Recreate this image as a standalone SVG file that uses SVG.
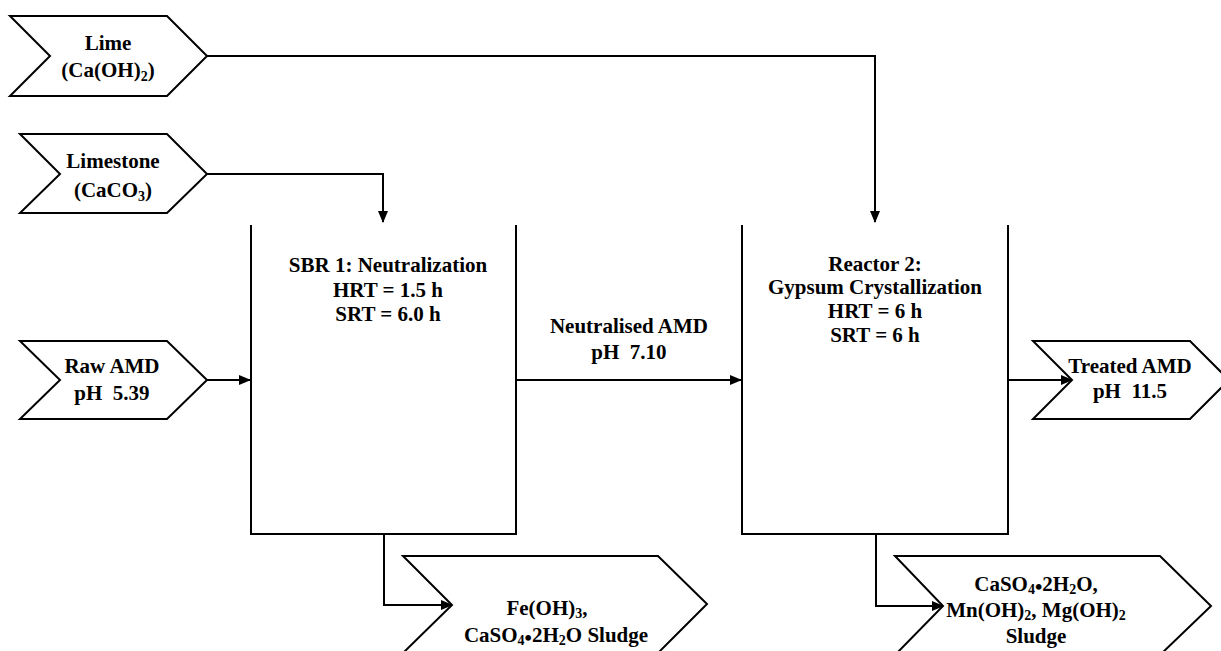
<svg xmlns="http://www.w3.org/2000/svg" width="1221" height="651" viewBox="0 0 1221 651">
<style>
.shape{fill:#fff;stroke:#000;stroke-width:2;stroke-linejoin:miter}
.tank{fill:none;stroke:#000;stroke-width:2}
.conn{fill:none;stroke:#000;stroke-width:2}
text{font-family:"Liberation Serif","Times New Roman",serif;font-weight:bold;font-size:21px;fill:#000;text-anchor:middle;white-space:pre}
.sub{font-size:14px}
</style>
<defs>
<marker id="arr" markerWidth="12" markerHeight="10" refX="11" refY="5" orient="auto" markerUnits="userSpaceOnUse">
<path d="M0,0 L12,5 L0,10 Z" fill="#000"/>
</marker>
</defs>
<rect width="1221" height="651" fill="#fff"/>
<g id="connectors">
<path class="conn" d="M207,56 H875 V222" marker-end="url(#arr)"/>
<path class="conn" d="M207,174 H383 V222" marker-end="url(#arr)"/>
<path class="conn" d="M207,380 H250" marker-end="url(#arr)"/>
<path class="conn" d="M516,380 H741" marker-end="url(#arr)"/>
<path class="conn" d="M1008,380 H1072" marker-end="url(#arr)"/>
<path class="conn" d="M384,534 V605 H452" marker-end="url(#arr)"/>
<path class="conn" d="M876,534 V606 H943" marker-end="url(#arr)"/>
</g>
<g id="lime">
<polygon class="shape" points="10,16 167,16 207,56 167,96 10,96 50,56"/>
<text x="108" y="50">Lime</text>
<text x="108" y="77">(Ca(OH)<tspan class="sub" dy="4">2</tspan><tspan dy="-4">)</tspan></text>
</g>
<g id="limestone">
<polygon class="shape" points="20,134 167,134 207,174 167,213 20,213 60,174"/>
<text x="113" y="168">Limestone</text>
<text x="113" y="197">(CaCO<tspan class="sub" dy="4">3</tspan><tspan dy="-4">)</tspan></text>
</g>
<g id="raw-amd">
<polygon class="shape" points="20,341 167,341 207,380 167,419 20,419 60,380"/>
<text x="112" y="373">Raw AMD</text>
<text x="112" y="400">pH  5.39</text>
</g>
<g id="sbr1">
<path class="tank" d="M251,225 V534 H516 V225"/>
<text x="388" y="272">SBR 1: Neutralization</text>
<text x="388" y="297">HRT = 1.5 h</text>
<text x="388" y="321">SRT = 6.0 h</text>
</g>
<g id="neutralised-label">
<text x="629" y="333">Neutralised AMD</text>
<text x="629" y="359">pH  7.10</text>
</g>
<g id="reactor2">
<path class="tank" d="M742,225 V534 H1008 V225"/>
<text x="875" y="271">Reactor 2:</text>
<text x="875" y="294">Gypsum Crystallization</text>
<text x="875" y="318">HRT = 6 h</text>
<text x="875" y="342">SRT = 6 h</text>
</g>
<g id="treated-amd">
<polygon class="shape" points="1033,341 1190,341 1229,380 1190,419 1033,419 1072,380"/>
<text x="1130" y="373">Treated AMD</text>
<text x="1130" y="398">pH  11.5</text>
</g>
<g id="sludge1">
<polygon class="shape" points="403,556 658,556 707,604 658,653 403,653 452,605"/>
<text x="547" y="615">Fe(OH)<tspan class="sub" dy="3">3</tspan><tspan dy="-3">,</tspan></text>
<text x="556" y="642">CaSO<tspan class="sub" dy="3">4</tspan><tspan dy="0">•</tspan><tspan dy="-3">2H</tspan><tspan class="sub" dy="3">2</tspan><tspan dy="-3">O Sludge</tspan></text>
</g>
<g id="sludge2">
<polygon class="shape" points="895,556 1160,556 1211,606 1160,655 895,655 943,606"/>
<text x="1036" y="591">CaSO<tspan class="sub" dy="3">4</tspan><tspan dy="0">•</tspan><tspan dy="-3">2H</tspan><tspan class="sub" dy="3">2</tspan><tspan dy="-3">O,</tspan></text>
<text x="1036" y="617">Mn(OH)<tspan class="sub" dy="3">2</tspan><tspan dy="-3">, Mg(OH)</tspan><tspan class="sub" dy="3">2</tspan></text>
<text x="1036" y="643">Sludge</text>
</g>
</svg>
